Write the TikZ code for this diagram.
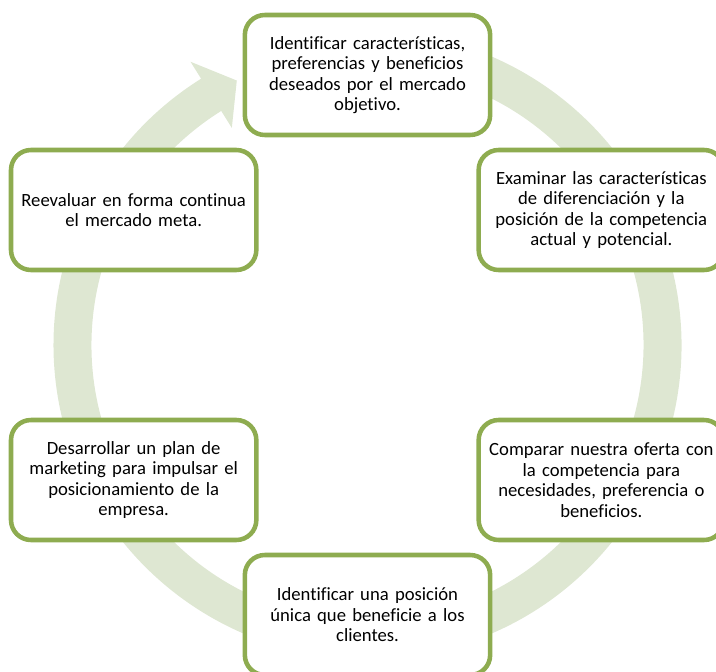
\documentclass[tikz,border=0pt]{standalone}
\usepackage{fontspec}
\setmainfont[Ligatures=NoCommon]{Carlito}
\usepackage{tikz}
\definecolor{Olive}{HTML}{8EAC50}
\definecolor{OliveLight}{HTML}{DEE7D2}
\tikzset{etapa/.style={rounded corners=15pt,draw=Olive,fill=white,line width=3.4pt,minimum width=184pt,minimum height=90pt,align=center,text width=176pt,font=\fontsize{14}{15.4}\selectfont},ciclo/.style={fill=OliveLight,draw=none}}

\begin{document}
\begin{tikzpicture}[x=0.75pt,y=0.75pt]
  \useasboundingbox (-367.5,-326) rectangle (348.5,345);
  % circular arrow behind the boxes
  \fill[ciclo](100:314) arc[start angle=100,end angle=-238,radius=235.5pt] -- (122:334) -- (116.3:295) -- (122:256) -- (122:276) arc[start angle=-238,end angle=100,radius=207pt] -- cycle;
  \node[etapa](identificar) at (90:270){Identificar características,\\preferencias y beneficios\\deseados por el mercado\\objetivo.};
  \node[etapa](examinar) at (30:270){Examinar las características\\de diferenciación y la\\posición de la competencia\\actual y potencial.};
  \node[etapa](comparar) at (-30:270){Comparar nuestra oferta con\\la competencia para\\necesidades, preferencia o\\beneficios.};
  \node[etapa](posicion) at (-90:270){Identificar una posición\\única que beneficie a los\\clientes.};
  \node[etapa](plan) at (-150:270){Desarrollar un plan de\\marketing para impulsar el\\posicionamiento de la\\empresa.};
  \node[etapa](reevaluar) at (150:270){Reevaluar en forma continua\\el mercado meta.};
\end{tikzpicture}
\end{document}
